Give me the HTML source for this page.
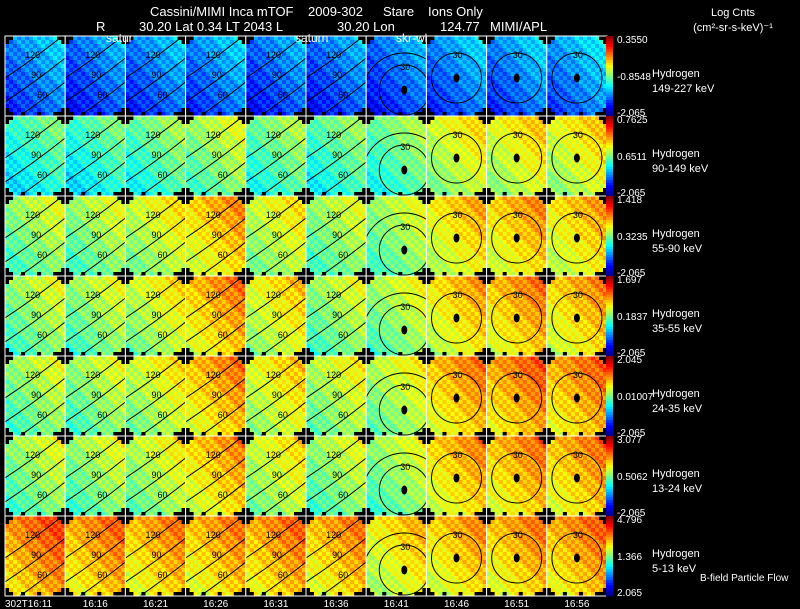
<!DOCTYPE html>
<html><head><meta charset="utf-8">
<style>
html,body{margin:0;padding:0;background:#000;width:800px;height:609px;overflow:hidden}
svg{display:block}
text{font-family:"Liberation Sans",sans-serif;fill:#fff}
</style></head>
<body>
<svg id="chart" width="800" height="609" viewBox="0 0 800 609" xmlns="http://www.w3.org/2000/svg">
<rect width="800" height="609" fill="#000"/>
<defs id="defs"></defs>
<g font-size="13">
<text x="150" y="16">Cassini/MIMI Inca mTOF</text>
<text x="308" y="16">2009-302</text>
<text x="383" y="16">Stare</text>
<text x="428" y="16">Ions Only</text>
</g>
<g font-size="13">
<text x="96" y="31">R</text>
<text x="139" y="31">30.20 Lat 0.34 LT 2043 L</text>
<text x="337" y="31">30.20 Lon</text>
<text x="440" y="31">124.77</text>
<text x="490" y="31">MIMI/APL</text>
</g>
<text x="733" y="16" font-size="11" text-anchor="middle">Log Cnts</text>
<text x="733" y="31" font-size="11" text-anchor="middle">(cm²-sr-s-keV)⁻¹</text>
<g id="panels"></g>
<g id="overlay"></g>
<text x="700" y="581" font-size="10">B-field Particle Flow</text>
</svg>
<script>
const times=["302T16:11","16:16","16:21","16:26","16:31","16:36","16:41","16:46","16:51","16:56"];
const species=["Hydrogen","Hydrogen","Hydrogen","Hydrogen","Hydrogen","Hydrogen","Hydrogen"];
const energies=["149-227 keV","90-149 keV","55-90 keV","35-55 keV","24-35 keV","13-24 keV","5-13 keV"];
const cbMax=["0.3550","0.7625","1.418","1.697","2.045","3.077","4.796"];
const cbMid=["-0.8548","0.6511","0.3235","0.1837","0.01007","0.5062","1.366"];
const cbMin=["-2.065","-2.065","-2.065","-2.065","-2.065","-2.065","2.065"];
const level0=[0.25,0.22,0.24,0.25,0.22,0.22,0.22,0.25,0.25,0.27];
const level1=[0.42,0.42,0.46,0.52,0.47,0.45,0.47,0.58,0.60,0.60];
const level2=[0.52,0.52,0.57,0.66,0.57,0.52,0.52,0.63,0.66,0.64];
const level3=[0.52,0.52,0.57,0.68,0.60,0.52,0.53,0.64,0.68,0.66];
const level4=[0.52,0.52,0.57,0.68,0.60,0.55,0.55,0.68,0.71,0.70];
const level5=[0.52,0.52,0.55,0.66,0.57,0.52,0.52,0.66,0.68,0.68];
const level6=[0.73,0.70,0.68,0.68,0.70,0.68,0.62,0.66,0.68,0.70];
const levels=[level0,level1,level2,level3,level4,level5,level6];

const NS="http://www.w3.org/2000/svg";
const X0=5, CW=60.2, Y0=36, RH=80, NC=10, NR=7, GX=15, GY=20;
const xPos=c=>X0+c*CW, yPos=r=>Y0+r*RH;
function jet(t){t=Math.max(0,Math.min(1,t));
 const r=Math.max(0,Math.min(1,1.5-Math.abs(4*t-3))),g=Math.max(0,Math.min(1,1.5-Math.abs(4*t-2))),b=Math.max(0,Math.min(1,1.5-Math.abs(4*t-1)));
 return `rgb(${Math.round(r*255)},${Math.round(g*255)},${Math.round(b*255)})`;}
function el(tag,attrs,parent){const e=document.createElementNS(NS,tag);for(const k in attrs)e.setAttribute(k,attrs[k]);parent.appendChild(e);return e;}
const P=document.getElementById('panels'), O=document.getElementById('overlay'), D=document.getElementById('defs');
for(let r=0;r<NR;r++){
 for(let c=0;c<NC;c++){
  const g=el('g',{},P);
  
  
  const px=xPos(c), py=yPos(r), cw=CW/GX, ch=RH/GY, L=levels[r][c];
  const cp=el('clipPath',{id:'cp'+r+'_'+c},D);
  el('rect',{x:px,y:py,width:CW,height:RH},cp);
  for(let j=0;j<GY;j++)for(let i=0;i<GX;i++){
   const u=(i+0.5)/GX, v=(j+0.5)/GY;
   const du=u-0.5, dv=v-0.5;
   const edge=(du*du+dv*dv>0.36)||(j===GY-1&&(i%4===0));
   const tex=0.05*(((i*7+j*13+c*5+r*3)%5)-2)/2;
   const val=L+0.12*(u-0.5)+0.12*(0.5-v)+tex;
   el('rect',{x:(px+i*cw).toFixed(2),y:(py+j*ch).toFixed(2),width:(cw+0.3).toFixed(2),height:(ch+0.3).toFixed(2),fill:edge?'#000':jet(val)},g);
  }
  const cg=el('g',{'clip-path':'url(#cp'+r+'_'+c+')'},g);
  const cx=px+CW/2, cy=py+RH/2;
  if(c<6){
   for(let k=0;k<3;k++){
    const off=k*24-20;
    el('path',{d:`M${px} ${cy+off+22} Q${cx} ${cy+off+2} ${px+CW} ${cy+off-22}`,fill:'none',stroke:'#000','stroke-width':1},cg);
   }
   ["120","90","60"].forEach((t,k)=>{const tx=el('text',{x:cx-10+k*6,y:py+22+k*20,'font-size':9},cg);tx.textContent=t;tx.setAttribute('style','fill:#000');});
  } else {
   const ox=c===6?8:0, oy=c===6?14:2;
   el('circle',{cx:cx+ox,cy:cy+oy,r:25,fill:'none',stroke:'#000','stroke-width':1},cg);
   if(c===6) el('circle',{cx:cx+ox,cy:cy+oy+5,r:42,fill:'none',stroke:'#000','stroke-width':1},cg);
   el('ellipse',{cx:cx+ox,cy:cy+oy,rx:3,ry:4.5,fill:'#000'},cg);
   const t1=el('text',{x:cx+ox-4,y:cy+oy-20,'font-size':9},cg);t1.textContent="30";t1.setAttribute('style','fill:#000');
  }
  el('rect',{x:px,y:py,width:CW,height:RH,fill:'none',stroke:'#fff','stroke-width':1},g);
 }
 const cb=el('g',{},O);
 
 
 const cy0=yPos(r), n=30;
 for(let k=0;k<n;k++) el('rect',{x:606,y:(cy0+k*RH/n).toFixed(2),width:7,height:(RH/n+0.4).toFixed(2),fill:jet(1-(k+0.5)/n)},cb);
 const a=el('text',{x:617,y:cy0+7,'font-size':10},cb);a.textContent=cbMax[r];
 const b=el('text',{x:617,y:cy0+44,'font-size':10},cb);b.textContent=cbMid[r];
 const d=el('text',{x:617,y:cy0+80,'font-size':10},cb);d.textContent=cbMin[r];
 const s=el('text',{x:652,y:cy0+41,'font-size':11},O);s.textContent=species[r];
 
 
 const e=el('text',{x:652,y:cy0+56,'font-size':11},O);e.textContent=energies[r];
 
 
}
times.forEach((t,c)=>{const tx=el('text',{x:c===0?5:xPos(c)+CW/2,y:607,'font-size':10,'text-anchor':c===0?'start':'middle'},O);tx.textContent=t;
 
 });
[["satur",106],["saturn",295],["skr-wl",396]].forEach(([t,x])=>{const tx=el('text',{x:x,y:42,'font-size':12},O);tx.textContent=t;
 
 });
</script>
</body></html>
